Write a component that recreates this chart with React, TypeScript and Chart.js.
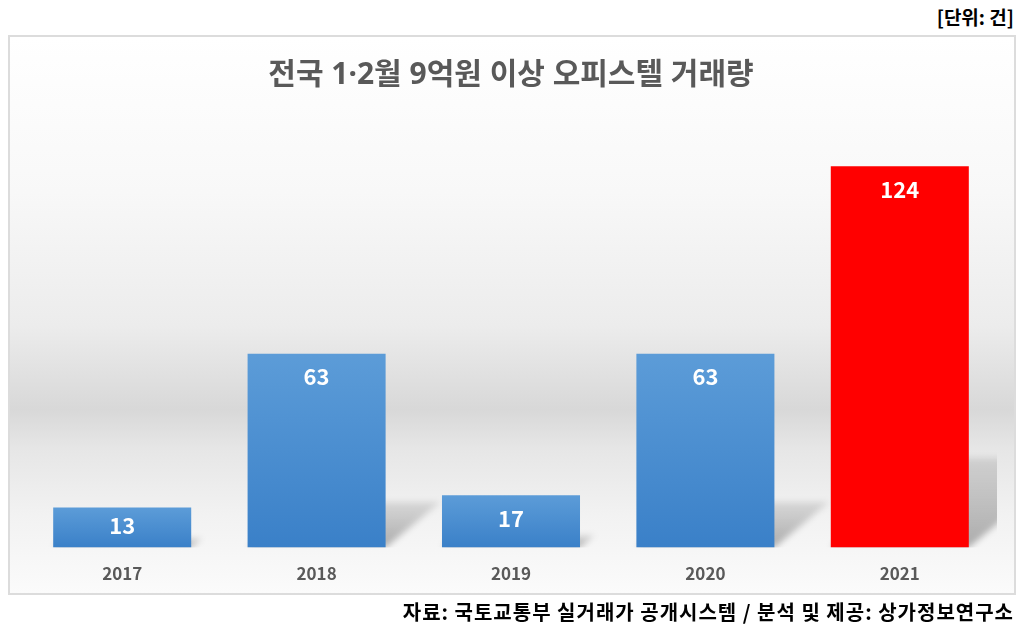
import React, { useEffect, useRef } from "react";
import { Chart, registerables } from "chart.js";

Chart.register(...registerables);

const categories = ["2017", "2018", "2019", "2020", "2021"];
const values = [13, 63, 17, 63, 124];
const highlightIndex = 4;
const titleText = "전국 1·2월 9억원 이상 오피스텔 거래량";
const unitText = "[단위: 건]";
const sourceText = "자료: 국토교통부 실거래가 공개시스템 / 분석 및 제공: 상가정보연구소";
const yMax = 140;

const FONT = "'Noto Sans CJK KR', 'Noto Sans', sans-serif";
const TITLE_FONT = "'Noto Sans', 'Noto Sans CJK KR', sans-serif";

const shadowPlugin = {
  id: "barShadow",
  beforeDatasetsDraw(chart: any) {
    const { ctx, chartArea } = chart;
    const meta = chart.getDatasetMeta(0);
    ctx.save();
    ctx.beginPath();
    ctx.rect(chartArea.left, chartArea.top, chartArea.right - chartArea.left, chartArea.bottom - chartArea.top);
    ctx.clip();
    meta.data.forEach((bar: any) => {
      const { x, y, base, width } = bar.getProps(["x", "y", "base", "width"], true);
      const left = x - width / 2;
      const right = x + width / 2;
      const h = base - y;
      const hs = h * 0.235;
      const s = hs * 1.2;
      const g = ctx.createLinearGradient(0, base, 0, base - hs);
      g.addColorStop(0, "rgba(0,0,0,0.30)");
      g.addColorStop(1, "rgba(0,0,0,0.10)");
      ctx.save();
      ctx.filter = "blur(3px)";
      ctx.fillStyle = g;
      ctx.beginPath();
      ctx.moveTo(left, base);
      ctx.lineTo(right, base);
      ctx.lineTo(right + s, base - hs);
      ctx.lineTo(left + s, base - hs);
      ctx.closePath();
      ctx.fill();
      ctx.restore();
    });
    ctx.restore();
  },
};

const labelPlugin = {
  id: "barLabels",
  afterDatasetsDraw(chart: any) {
    const { ctx } = chart;
    const meta = chart.getDatasetMeta(0);
    const data = chart.data.datasets[0].data;
    ctx.save();
    ctx.fillStyle = "#ffffff";
    ctx.font = `bold 22px ${FONT}`;
    ctx.textAlign = "center";
    ctx.textBaseline = "middle";
    meta.data.forEach((bar: any, i: number) => {
      const { x, y, base } = bar.getProps(["x", "y", "base"], true);
      const h = base - y;
      const off = Math.min(23, h / 2 - 2);
      ctx.fillText(String(data[i]), x, y + off);
    });
    ctx.restore();
  },
};

export default function App() {
  const ref = useRef<HTMLCanvasElement | null>(null);

  useEffect(() => {
    if (!ref.current) return;
    const chart = new Chart(ref.current, {
      type: "bar",
      data: {
        labels: categories,
        datasets: [
          {
            data: values,
            backgroundColor: (c: any) => {
              const chart = c.chart;
              if (c.dataIndex === highlightIndex) return "#ff0000";
              const ys = chart.scales && chart.scales.y;
              if (!ys || !chart.chartArea) return "#4a8ed0";
              const top = ys.getPixelForValue(c.raw);
              const bottom = ys.getPixelForValue(0);
              if (!isFinite(top) || !isFinite(bottom) || top === bottom) return "#4a8ed0";
              const g = chart.ctx.createLinearGradient(0, top, 0, bottom);
              g.addColorStop(0, "#5c9cd8");
              g.addColorStop(1, "#3a80c8");
              return g;
            },
            borderWidth: 0,
            barPercentage: 0.71,
            categoryPercentage: 1,
          },
        ],
      },
      options: {
        responsive: false,
        animation: false,
        layout: { padding: { left: 17, right: 19, top: 0, bottom: 12 } },
        plugins: {
          legend: { display: false },
          tooltip: { enabled: false },
          title: {
            display: true,
            text: titleText,
            color: "#595959",
            font: { family: TITLE_FONT, size: 30, weight: "bold" },
            padding: { top: 22, bottom: 24 },
          },
        },
        scales: {
          x: {
            grid: { display: false, drawTicks: false, tickLength: 0 },
            border: { display: false },
            ticks: {
              color: "#595959",
              font: { family: FONT, size: 17, weight: "bold" },
              padding: 16,
            },
          },
          y: {
            display: false,
            min: 0,
            max: yMax,
          },
        },
      },
      plugins: [shadowPlugin, labelPlugin],
    });
    return () => chart.destroy();
  }, []);

  return (
    <div style={{ position: "absolute", left: 0, top: 0, width: 1024, height: 632, background: "#ffffff", fontFamily: FONT }}>
      <div
        style={{
          position: "absolute",
          right: 10,
          top: 5,
          fontSize: 19,
          fontWeight: "bold",
          color: "#000",
          lineHeight: "24px",
        }}
      >
        {unitText}
      </div>
      <div
        style={{
          position: "absolute",
          left: 8,
          top: 35,
          width: 1008,
          height: 560,
          boxSizing: "border-box",
          border: "2px solid #dcdcdc",
          background:
            "linear-gradient(to bottom, #ffffff 0%, #f8f8f8 28%, #ececec 52%, #d8d8d8 67%, #e6e6e6 74%, #f2f2f2 86%, #fbfbfb 100%)",
        }}
      />
      <canvas
        ref={ref}
        width={1008}
        height={577}
        style={{ position: "absolute", left: 8, top: 35, width: 1008, height: 577 }}
      />
      <div
        style={{
          position: "absolute",
          right: 10,
          top: 599,
          fontSize: 20,
          fontWeight: "bold",
          color: "#000",
          lineHeight: "26px",
          letterSpacing: "1px",
          whiteSpace: "nowrap",
        }}
      >
        {sourceText}
      </div>
    </div>
  );
}
